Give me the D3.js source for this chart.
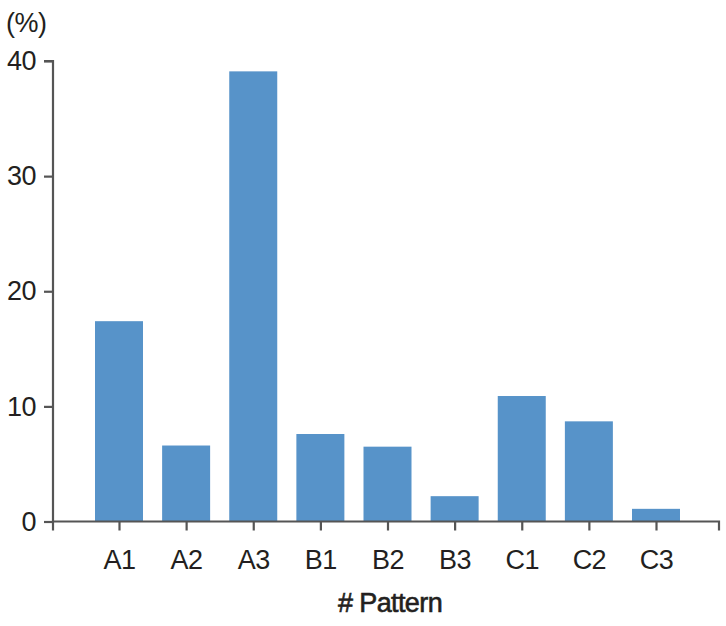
<!DOCTYPE html>
<html lang="en">
<head>
    <meta charset="UTF-8">
    <title>Pattern</title>
    <script src="https://cdn.jsdelivr.net/npm/d3@7"></script>
    <style>
        body { margin: 0; background: #fff; }
        text { font-family: "Liberation Sans", Arial, sans-serif; fill: #231f20; }
    </style>
</head>
<body>
<svg></svg>
<script>
    var width = 726;
    var height = 626;

    var categories = ["A1", "A2", "A3", "B1", "B2", "B3", "C1", "C2", "C3"];
    var values = [17.4, 6.6, 39.1, 7.6, 6.5, 2.2, 10.9, 8.7, 1.1];
    var yTicks = [0, 10, 20, 30, 40];

    var svg = d3.select('svg')
        .attr('width', width)
        .attr('height', height);

    var axisColor = "#555";
    var plotLeft = 53, plotRight = 719, plotBottom = 521.5, plotTop = 61;

    // category centres, roughly one step of blank space at each end of the axis
    var x = d3.scalePoint()
        .domain(categories)
        .range([119, 656]);
    var barW = 48;

    var y = d3.scaleLinear()
        .domain([0, 40])
        .range([plotBottom, plotTop]);

    // bars
    svg.selectAll("rect.bar")
        .data(values)
        .enter()
        .append("rect")
        .attr("class", "bar")
        .attr("x", function(d, i){ return x(categories[i]) - barW / 2; })
        .attr("y", function(d){ return y(d); })
        .attr("width", barW)
        .attr("height", function(d){ return y(0) - y(d); })
        .attr("fill", "#5793c9");

    // y axis
    var yAxis = svg.append("g")
        .attr("transform", "translate(" + plotLeft + ",0)")
        .call(d3.axisLeft(y).tickValues(yTicks).tickSize(9).tickPadding(8).tickFormat(d3.format("d")));
    yAxis.select(".domain").attr("d", "M-9," + plotTop + "H0V" + plotBottom);

    // x axis
    var xAxis = svg.append("g")
        .attr("transform", "translate(0," + plotBottom + ")")
        .call(d3.axisBottom(x).tickSize(9).tickPadding(19));
    xAxis.select(".domain").attr("d", "M" + plotLeft + ",0H" + plotRight + "V9");
    xAxis.append("line")
        .attr("class", "end")
        .attr("x1", plotLeft).attr("x2", plotLeft)
        .attr("y1", 0).attr("y2", 9);

    svg.selectAll(".domain, .tick line, line.end")
        .attr("stroke", axisColor)
        .attr("stroke-width", 2.2)
        .attr("fill", "none");

    svg.selectAll(".tick text")
        .attr("font-size", 27)
        .attr("letter-spacing", "-0.5px")
        .attr("font-family", "Liberation Sans, Arial, sans-serif")
        .attr("fill", "#231f20");

    // unit label
    svg.append("text")
        .attr("x", 6)
        .attr("y", 32)
        .attr("font-size", 27)
        .attr("letter-spacing", "-0.5px")
        .text("(%)");

    // x title
    svg.append("text")
        .attr("x", 390)
        .attr("y", 612)
        .attr("text-anchor", "middle")
        .attr("font-size", 27)
        .attr("letter-spacing", "-0.6px")
        .attr("stroke", "#231f20")
        .attr("stroke-width", 0.6)
        .text("# Pattern");
</script>
</body>
</html>
